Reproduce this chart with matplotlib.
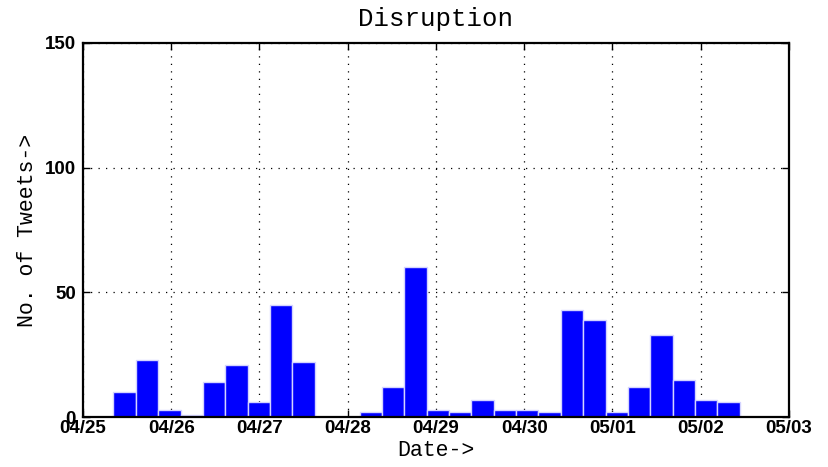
import matplotlib
matplotlib.use("Agg")
import matplotlib.pyplot as plt
import matplotlib.dates as mdates
from matplotlib.font_manager import FontProperties
import pandas as pd

# tweet counts per ~6h bin, first bin centred just before 04/25 00:00
BIN_START = "2013-04-24 23:10"
BIN_STEP = "6h05min"
COUNTS = [0, 0, 10, 23, 3, 1, 14, 21, 6, 45, 22, 0, 0, 2, 12, 60,
          3, 2, 7, 3, 3, 2, 43, 39, 2, 12, 33, 15, 7, 6, 0, 0]
TICK_DAYS = pd.date_range("2013-04-25", "2013-05-03", freq="D")
Y_TICKS = [0, 50, 100, 150]

centers = pd.date_range(BIN_START, periods=len(COUNTS), freq=BIN_STEP)
width = pd.Timedelta(BIN_STEP) / pd.Timedelta("1D")

fig = plt.figure(figsize=(8.29, 4.67), dpi=100)
ax = fig.add_axes([0.1001, 0.107, 0.8516, 0.801])

ax.bar(mdates.date2num(centers), COUNTS, width=width, color="#0000ff",
       edgecolor="#d4d4ff", linewidth=1.0, align="center")

ax.set_xlim(mdates.date2num(TICK_DAYS[0]), mdates.date2num(TICK_DAYS[-1]))
ax.set_ylim(0, 150)
ax.set_xticks(mdates.date2num(TICK_DAYS))
ax.set_xticklabels([d.strftime("%m/%d") for d in TICK_DAYS])
ax.set_yticks(Y_TICKS)

tick_fp = FontProperties(family="Liberation Sans", weight="bold", size=13.5)
for lab in ax.get_xticklabels() + ax.get_yticklabels():
    lab.set_fontproperties(tick_fp)

ax.tick_params(direction="in", length=5, width=1, top=True, right=True, colors="black")
ax.tick_params(axis="x", pad=2)
ax.tick_params(axis="y", pad=5)
ax.grid(True, linestyle=(0, (1, 5)), color="black", linewidth=0.9)
ax.set_axisbelow(True)
for sp in ax.spines.values():
    sp.set_linewidth(1.6)

lab_font = dict(family="Liberation Mono")
ax.set_title("Disruption", fontsize=18.5, pad=12, **lab_font)
ax.set_xlabel("Date->", fontsize=15.5, labelpad=2, **lab_font)
ax.set_ylabel("No. of Tweets->", fontsize=15.5, labelpad=5, **lab_font)

fig.savefig("out.png", dpi=100)
